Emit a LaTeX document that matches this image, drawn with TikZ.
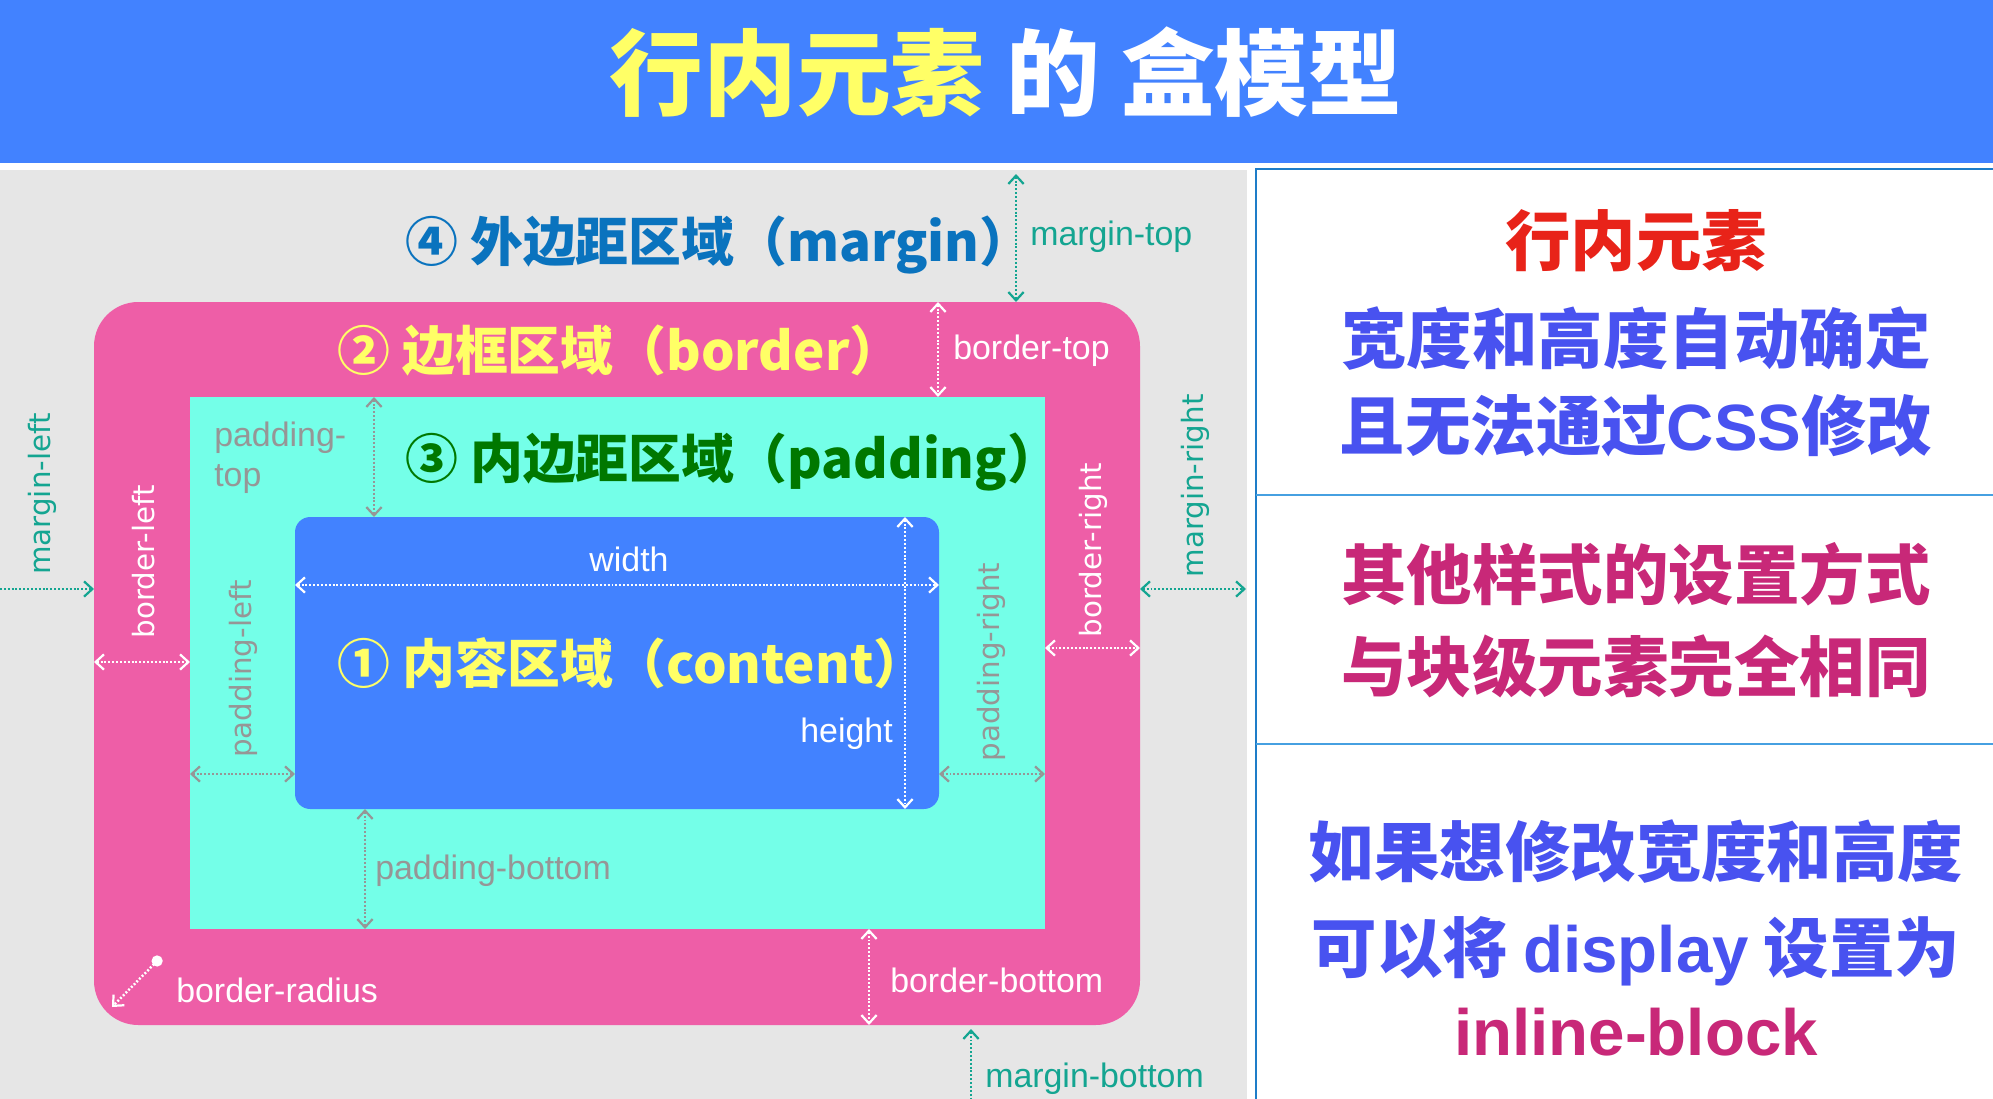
\documentclass[tikz,border=0pt]{standalone}
\usepackage{fontspec}
\newfontfamily\cjk{Noto Sans CJK SC}
\newfontfamily\labf{Liberation Sans}
\newfontfamily\rotf{DejaVu Sans}
\usetikzlibrary{arrows.meta,fit}
\definecolor{hdrblue}{RGB}{66,130,255}
\definecolor{bggray}{RGB}{230,230,230}
\definecolor{pinkc}{RGB}{238,94,167}
\definecolor{cyanc}{RGB}{116,255,232}
\definecolor{yel}{RGB}{255,255,102}
\definecolor{mblue}{RGB}{10,115,190}
\definecolor{pgreen}{RGB}{0,120,0}
\definecolor{tealc}{RGB}{20,165,145}
\definecolor{pgray}{RGB}{150,150,150}
\definecolor{redc}{RGB}{232,35,25}
\definecolor{pblue}{RGB}{72,82,240}
\definecolor{magc}{RGB}{200,40,120}
\definecolor{lineblue}{RGB}{30,125,200}
\definecolor{lineblue2}{RGB}{70,160,225}
\newcommand{\latin}[1]{{\labf\bfseries #1}}
\begin{document}
\begin{tikzpicture}[x=0.0254cm,y=-0.0254cm,
  >={Straight Barb[length=6pt,width=11pt,line width=1.6pt]},
  titletext/.style={font=\cjk\bfseries\fontsize{67.7}{70}\selectfont, inner sep=0, anchor=base, text=white},
  region/.style={font=\cjk\bfseries\fontsize{38.2}{40}\selectfont, inner sep=0, anchor=base west},
  panel/.style={font=\cjk\bfseries\fontsize{47.3}{50}\selectfont, inner sep=0, anchor=base},
  lab/.style={font=\labf\fontsize{24.5}{29}\selectfont, inner sep=0},
  rlab/.style={font=\rotf\fontsize{21.2}{24}\selectfont, inner sep=0, rotate=90},
  dim/.style={line width=1.8pt, dash pattern=on 1.4pt off 1.4pt},
  box/.style={inner sep=0, outer sep=0, draw=none},
]
\useasboundingbox (0,0) rectangle (1993,1099);
% backgrounds
\fill[white] (0,0) rectangle (1993,1099);
\fill[hdrblue] (0,0) rectangle (1993,163);
\fill[bggray] (0,170) rectangle (1247,1099);
\draw[lineblue, line width=2pt] (1256,1099) -- (1256,169) -- (1993,169);
\draw[lineblue2, line width=1.5pt] (1256,495) -- (1993,495);
\draw[lineblue2, line width=1.5pt] (1256,744) -- (1993,744);

% title
\node[titletext] (title) at (1006,108) {\textcolor{yel}{行内元素} 的 盒模型};

% boxes
\coordinate (bA) at (94,302); \coordinate (bB) at (1140,1025);
\node[box, fit=(bA)(bB), fill=pinkc, rounded corners=32pt] (border) {};
\coordinate (pA) at (190,397); \coordinate (pB) at (1045,929);
\node[box, fit=(pA)(pB), fill=cyanc] (padding) {};
\coordinate (cA) at (295,517); \coordinate (cB) at (939,809);
\node[box, fit=(cA)(cB), fill=hdrblue, rounded corners=11pt] (content) {};

% region titles
\node[region, text=mblue] (tmargin) at (405,261) {④ 外边距区域（margin）};
\node[region, text=yel] (tborder) at (337,370) {② 边框区域（border）};
\node[region, text=pgreen] (tpadding) at (405,478) {③ 内边距区域（padding）};
\node[region, text=yel] (tcontent) at (337,683) {① 内容区域（content）};

% margin dimensions
\coordinate (mtA) at (1016,174);
\draw[dim, tealc, <->] (mtA) -- (mtA |- border.north);
\node[lab, text=tealc, anchor=west] (lmt) at (1030,237) {margin-top};
\coordinate (mlA) at (0,589);
\draw[dim, tealc, ->] (mlA) -- (mlA -| border.west);
\node[rlab, text=tealc] (lml) at (42,494) {margin-left};
\coordinate (mrA) at (1246,589);
\draw[dim, tealc, <->] (mrA -| border.east) -- (mrA);
\node[rlab, text=tealc] (lmr) at (1195,486) {margin-right};
\coordinate (mbA) at (971,1099);
\draw[dim, tealc, <-] (mbA |- border.south) ++(0,4) coordinate (mbB) -- (mbA);
\node[lab, text=tealc, anchor=west] (lmb) at (985,1079) {margin-bottom};

% border dimensions
\coordinate (btA) at (938,0);
\draw[dim, white, <->] (btA |- border.north) -- (btA |- padding.north);
\node[lab, text=white, anchor=west] (lbt) at (953,351) {border-top};
\coordinate (blA) at (0,662);
\draw[dim, white, <->] (blA -| border.west) -- (blA -| padding.west);
\node[rlab, text=white] (lbl) at (144,562) {border-left};
\coordinate (brA) at (0,648);
\draw[dim, white, <->] (brA -| padding.east) -- (brA -| border.east);
\node[rlab, text=white] (lbr) at (1093,550) {border-right};
\coordinate (bbA) at (869,0);
\draw[dim, white, <->] (bbA |- padding.south) -- (bbA |- border.south);
\node[lab, text=white, anchor=west] (lbb) at (890,980) {border-bottom};
\coordinate (rdA) at (161,957);
\coordinate (rdB) at (112,1007);
\draw[dim, white, {Circle[length=8pt]}->] (rdA) -- (rdB);
\node[lab, text=white, anchor=west] (lbrad) at (176,990) {border-radius};

% padding dimensions
\coordinate (ptA) at (374,0);
\draw[dim, pgray, <->] (ptA |- padding.north) -- (ptA |- content.north);
\node[lab, text=pgray, anchor=west, align=left, font=\labf\fontsize{24.5}{29}\selectfont] (lpt) at (214,458) {padding-\\top};
\coordinate (plA) at (0,774);
\draw[dim, pgray, <->] (plA -| padding.west) -- (plA -| content.west);
\node[rlab, text=pgray] (lpl) at (243,669) {padding-left};
\draw[dim, pgray, <->] (plA -| content.east) -- (plA -| padding.east);
\node[rlab, text=pgray] (lpr) at (991,662) {padding-right};
\coordinate (pbA) at (365,0);
\draw[dim, pgray, <->] (pbA |- content.south) -- (pbA |- padding.south);
\node[lab, text=pgray, anchor=west] (lpb) at (375,871) {padding-bottom};

% content dimensions
\coordinate (wA) at (0,585);
\draw[dim, white, <->] (wA -| content.west) -- (wA -| content.east);
\node[lab, text=white] (lw) at (629,559) {width};
\coordinate (hA) at (905,0);
\draw[dim, white, <->] (hA |- content.north) -- (hA |- content.south);
\node[lab, text=white, anchor=east] (lh) at (893,734) {height};

% right panel
\node[panel, text=redc] (p1) at (1636,265) {行内元素};
\node[panel, text=pblue] (p2) at (1636,363) {宽度和高度自动确定};
\node[panel, text=pblue] (p3) at (1636,450) {且无法通过\latin{CSS}修改};
\node[panel, text=magc] (p4) at (1636,599) {其他样式的设置方式};
\node[panel, text=magc] (p5) at (1636,691) {与块级元素完全相同};
\node[panel, text=pblue] (p6) at (1636,876) {如果想修改宽度和高度};
\node[panel, text=pblue] (p7) at (1636,972) {可以将 \latin{display} 设置为};
\node[panel, text=magc] (p8) at (1636,1055) {\latin{inline-block}};
\end{tikzpicture}
\end{document}
